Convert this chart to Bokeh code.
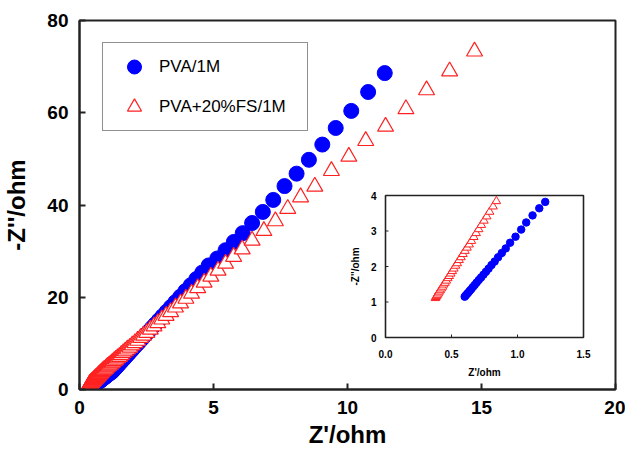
import numpy as np
from bokeh.plotting import figure
from bokeh.models import Range1d, Legend, LegendItem, ColumnDataSource, FixedTicker
from bokeh.embed import file_html
from bokeh.resources import INLINE
from bokeh.core.properties import value

# ---------------- data ----------------
pva_x = [0.600, 0.607, 0.616, 0.626, 0.637, 0.649, 0.662, 0.676, 0.691, 0.707,
         0.724, 0.742, 0.761, 0.781, 0.803, 0.827, 0.853, 0.881, 0.911, 0.944,
         0.985, 1.028, 1.066, 1.114, 1.165, 1.210,
         1.25, 1.30, 1.34, 1.39, 1.44, 1.50, 1.56, 1.62, 1.68, 1.75,
         1.82, 1.90, 1.98, 2.07, 2.16, 2.25, 2.35, 2.46, 2.58, 2.70,
         2.82, 2.96, 3.10, 3.25, 3.41, 3.58, 3.76, 3.95, 4.15, 4.36,
         4.58, 4.82, 5.14, 5.45, 5.76, 6.09, 6.44, 6.84, 7.23, 7.65,
         8.10, 8.56, 9.06, 9.56, 10.14, 10.77, 11.39]
pva_y = [1.15, 1.18, 1.22, 1.26, 1.31, 1.36, 1.42, 1.48, 1.55, 1.62,
         1.69, 1.77, 1.85, 1.94, 2.04, 2.14, 2.26, 2.38, 2.51, 2.67,
         2.84, 3.04, 3.24, 3.44, 3.64, 3.82,
         4.08, 4.40, 4.65, 4.97, 5.29, 5.67, 6.06, 6.44, 6.82, 7.27,
         7.72, 8.23, 8.74, 9.32, 9.89, 10.47, 11.10, 11.81, 12.57, 13.34,
         14.11, 15.00, 15.90, 16.86, 17.88, 18.96, 20.11, 21.33, 22.61, 23.95,
         25.35, 26.9, 28.4, 30.2, 32.0, 33.9, 36.1, 38.5, 41.1, 44.1,
         46.8, 49.8, 53.1, 56.7, 60.4, 64.5, 68.6]

fs_x = [0.378, 0.382, 0.387, 0.393, 0.400, 0.407, 0.415, 0.423, 0.432, 0.441,
        0.451, 0.461, 0.472, 0.483, 0.494, 0.506, 0.518, 0.531, 0.544, 0.558,
        0.572, 0.587, 0.602, 0.618, 0.634, 0.651, 0.669, 0.687, 0.706, 0.726,
        0.746, 0.767, 0.789, 0.815, 0.840,
        0.88, 0.91, 0.94, 0.98, 1.02, 1.06, 1.10, 1.15, 1.20, 1.25,
        1.30, 1.36, 1.42, 1.49, 1.56, 1.63, 1.71, 1.79, 1.88, 1.97,
        2.07, 2.17, 2.28, 2.39, 2.51, 2.64, 2.78, 2.92, 3.07, 3.23,
        3.40, 3.58, 3.77, 3.97, 4.18, 4.41, 4.65, 4.90, 5.17, 5.45,
        5.75, 6.07, 6.44, 6.88, 7.31, 7.77, 8.25, 8.78, 9.40, 10.05,
        10.68, 11.42, 12.18, 12.95, 13.81, 14.74]
fs_y = [1.11, 1.14, 1.17, 1.20, 1.24, 1.29, 1.33, 1.38, 1.43, 1.49,
        1.54, 1.60, 1.67, 1.73, 1.80, 1.87, 1.94, 2.02, 2.09, 2.18,
        2.26, 2.35, 2.44, 2.53, 2.62, 2.72, 2.83, 2.94, 3.05, 3.17,
        3.29, 3.41, 3.54, 3.69, 3.84,
        4.05, 4.20, 4.35, 4.55, 4.80, 5.00, 5.20, 5.40, 5.70, 5.90,
        6.20, 6.50, 6.80, 7.10, 7.50, 7.90, 8.30, 8.70, 9.10, 9.60,
        10.10, 10.60, 11.20, 11.70, 12.30, 13.00, 13.70, 14.40, 15.20, 16.00,
        16.80, 17.80, 18.70, 19.70, 20.80, 22.00, 23.20, 24.50, 25.80, 27.30,
        28.80, 30.40, 32.30, 34.40, 36.50, 39.20, 41.70, 44.00, 47.40, 50.50,
        53.90, 57.00, 60.80, 64.90, 69.00, 73.30]

series_labels = ["PVA/1M", "PVA+20%FS/1M"]

main_x_ticks = [0, 5, 10, 15, 20]
main_y_ticks = [0, 20, 40, 60, 80]
inset_x_ticks = [0.0, 0.5, 1.0, 1.5]
inset_x_labels = ["0.0", "0.5", "1.0", "1.5"]
inset_y_ticks = [0, 1, 2, 3, 4]
inset_y_labels = ["0", "1", "2", "3", "4"]

# ---------------- layout ----------------
W, H = 625, 451
BL, BR, BT, BB = 79, 10, 20, 62
FW, FH = W - BL - BR, H - BT - BB
FONT = "Liberation Sans"

# inset box in screen pixels
IL, IR, IT, IB = 385, 583, 195, 337
ix0, ix1 = inset_x_ticks[0], inset_x_ticks[-1]
iy0, iy1 = inset_y_ticks[0], inset_y_ticks[-1]
kx = (IR - IL) / (ix1 - ix0)
ky = (IB - IT) / (iy1 - iy0)

p = figure(width=W, height=H,
           x_range=Range1d(main_x_ticks[0], main_x_ticks[-1]),
           y_range=Range1d(main_y_ticks[0], main_y_ticks[-1]),
           output_backend="svg", toolbar_location=None,
           min_border_left=BL, min_border_right=BR,
           min_border_top=BT, min_border_bottom=BB)
p.background_fill_color = "white"
p.border_fill_color = "white"
p.outline_line_color = "#222222"
p.outline_line_width = 2
p.xgrid.visible = False
p.ygrid.visible = False

p.extra_x_ranges = {"ix": Range1d(ix0 - (IL - BL) / kx, ix1 + (BL + FW - IR) / kx)}
p.extra_y_ranges = {"iy": Range1d(iy0 - (BT + FH - IB) / ky, iy1 + (IT - BT) / ky)}

p.xaxis.ticker = FixedTicker(ticks=main_x_ticks)
p.yaxis.ticker = FixedTicker(ticks=main_y_ticks)
p.xaxis.axis_label = "Z'/ohm"
p.yaxis.axis_label = "-Z''/ohm"
for ax in (p.xaxis, p.yaxis):
    ax.axis_line_width = 2
    ax.axis_line_color = "#222222"
    ax.major_tick_in = 6
    ax.major_tick_out = 0
    ax.major_tick_line_width = 2
    ax.major_tick_line_color = "#222222"
    ax.minor_tick_line_color = None
    ax.major_label_text_font = FONT
    ax.major_label_text_font_size = "19px"
    ax.major_label_text_font_style = "bold"
    ax.major_label_text_color = "black"
    ax.axis_label_text_font = FONT
    ax.axis_label_text_font_size = "24px"
    ax.axis_label_text_font_style = "bold"
    ax.axis_label_text_color = "black"
    ax.major_label_standoff = 11
p.xaxis.axis_label_standoff = 4
p.yaxis.axis_label_standoff = 14

# ---------------- main series ----------------
src_pva = ColumnDataSource(dict(x=pva_x, y=pva_y))
src_fs = ColumnDataSource(dict(x=fs_x, y=fs_y))
r_pva = p.scatter("x", "y", source=src_pva, marker="circle", size=15,
                  fill_color="#0000ff", line_color="#0000ff")
r_fs = p.scatter("x", "y", source=src_fs, marker="triangle", size=16,
                 fill_color="white", line_color="#ff2020", line_width=1.2)

# ---------------- inset ----------------
p.quad(left=[ix0], right=[ix1], bottom=[iy0], top=[iy1],
       x_range_name="ix", y_range_name="iy",
       fill_color="white", line_color="#222222", line_width=1.6)

def clip(xs, ys):
    xx, yy = [], []
    for a, b in zip(xs, ys):
        if ix0 <= a <= ix1 and iy0 <= b <= iy1:
            xx.append(a); yy.append(b)
    return xx, yy

px_in, py_in = clip(pva_x, pva_y)
fx_in, fy_in = clip(fs_x, fs_y)
p.scatter(px_in, py_in, marker="circle", size=7.5, fill_color="#0000ff",
          line_color="#0000ff", x_range_name="ix", y_range_name="iy")
p.scatter(fx_in, fy_in, marker="triangle", size=8.5, fill_color="white",
          line_color="#ff2020", line_width=1, x_range_name="ix", y_range_name="iy")

# inset ticks (inward)
p.ray(x=inset_x_ticks, y=[iy0] * len(inset_x_ticks), length=3, length_units="screen",
      angle=np.pi / 2, line_color="#222222", line_width=1,
      x_range_name="ix", y_range_name="iy")
p.ray(x=[ix0] * len(inset_y_ticks), y=inset_y_ticks, length=3, length_units="screen",
      angle=0, line_color="#222222", line_width=1,
      x_range_name="ix", y_range_name="iy")

# inset tick labels
p.text(x=inset_x_ticks, y=[iy0] * len(inset_x_ticks), text=inset_x_labels,
       x_range_name="ix", y_range_name="iy", y_offset=16,
       text_align="center", text_baseline="middle",
       text_font=value(FONT), text_font_size="10px", text_font_style="bold",
       text_color="black")
p.text(x=[ix0] * len(inset_y_ticks), y=inset_y_ticks, text=inset_y_labels,
       x_range_name="ix", y_range_name="iy", x_offset=-9,
       text_align="right", text_baseline="middle",
       text_font=value(FONT), text_font_size="10px", text_font_style="bold",
       text_color="black")
# inset axis labels
p.text(x=[(ix0 + ix1) / 2], y=[iy0], text=["Z'/ohm"],
       x_range_name="ix", y_range_name="iy", y_offset=35,
       text_align="center", text_baseline="middle",
       text_font=value(FONT), text_font_size="10px", text_font_style="bold",
       text_color="black")
p.text(x=[ix0], y=[(iy0 + iy1) / 2], text=["-Z''/ohm"],
       x_range_name="ix", y_range_name="iy", x_offset=-30, angle=np.pi / 2,
       text_align="center", text_baseline="middle",
       text_font=value(FONT), text_font_size="10px", text_font_style="bold",
       text_color="black")

# ---------------- legend ----------------
legend = Legend(items=[LegendItem(label=series_labels[0], renderers=[r_pva]),
                       LegendItem(label=series_labels[1], renderers=[r_fs])],
                location=(23, 258), orientation="vertical")
legend.margin = 0
legend.padding = 6
legend.spacing = 5
legend.glyph_width = 50
legend.glyph_height = 35
legend.label_height = 35
legend.label_width = 142
legend.label_standoff = 0
legend.label_text_font = FONT
legend.label_text_font_size = "17px"
legend.label_text_color = "black"
legend.border_line_color = "#222222"
legend.border_line_width = 1.2
legend.background_fill_color = "white"
legend.background_fill_alpha = 1
p.add_layout(legend, "center")

open("out.html", "w").write(file_html(p, INLINE))
